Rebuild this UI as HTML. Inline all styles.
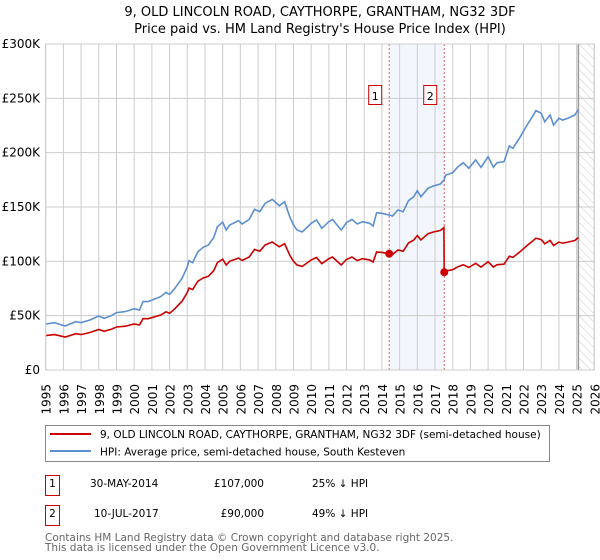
<!DOCTYPE html>
<html><head><meta charset="utf-8"><style>
body{margin:0;background:#fff;font-family:"DejaVu Sans","Liberation Sans",sans-serif;}
svg{display:block}
</style></head><body>
<svg id="c" width="600" height="560" xmlns="http://www.w3.org/2000/svg" font-family="DejaVu Sans, Liberation Sans, sans-serif">
<defs><pattern id="hatch" width="6" height="6" patternUnits="userSpaceOnUse" patternTransform="rotate(-45)"><line x1="0" y1="0" x2="0" y2="6" stroke="#ccc" stroke-width="1"/></pattern></defs>
<text x="320" y="16" text-anchor="middle" font-size="13">9, OLD LINCOLN ROAD, CAYTHORPE, GRANTHAM, NG32 3DF</text>
<text x="320" y="33" text-anchor="middle" font-size="13">Price paid vs. HM Land Registry's House Price Index (HPI)</text>
<g id="plot"></g>
<g>
<rect x="45.5" y="425.5" width="504" height="36" fill="#fff" stroke="#888"/>
<line x1="50" y1="434" x2="91" y2="434" stroke="#cc0000" stroke-width="2"/>
<text x="100" y="438" font-size="10.5">9, OLD LINCOLN ROAD, CAYTHORPE, GRANTHAM, NG32 3DF (semi-detached house)</text>
<line x1="50" y1="451" x2="91" y2="451" stroke="#5b8fd0" stroke-width="2"/>
<text x="100" y="455.5" font-size="10.5">HPI: Average price, semi-detached house, South Kesteven</text>
</g>
<g font-size="10.5">
<rect x="45.5" y="475.5" width="14" height="20" fill="#fff" stroke="#cc0000"/>
<text x="52.5" y="487" text-anchor="middle">1</text>
<text x="90" y="487">30-MAY-2014</text>
<text x="264" y="487" text-anchor="end">£107,000</text>
<text x="312" y="487">25% ↓ HPI</text>
<rect x="45.5" y="505.5" width="14" height="20" fill="#fff" stroke="#cc0000"/>
<text x="52.5" y="517" text-anchor="middle">2</text>
<text x="94" y="517">10-JUL-2017</text>
<text x="264" y="517" text-anchor="end">£90,000</text>
<text x="312" y="517">49% ↓ HPI</text>
</g>
<text x="45" y="541" font-size="10.5" fill="#666">Contains HM Land Registry data © Crown copyright and database right 2025.</text>
<text x="45" y="551" font-size="10.5" fill="#666">This data is licensed under the Open Government Licence v3.0.</text>
</svg>
<script>
const hpiDates=[1995.0,1995.5,1996.1,1996.7,1997.0,1997.5,1998.0,1998.3,1998.7,1999.0,1999.5,2000.0,2000.3,2000.5,2000.8,2001.5,2001.8,2002.0,2002.3,2002.7,2003.0,2003.1,2003.3,2003.6,2003.9,2004.2,2004.5,2004.7,2005.0,2005.2,2005.4,2005.9,2006.1,2006.5,2006.8,2007.1,2007.4,2007.8,2008.2,2008.5,2008.8,2009.0,2009.2,2009.5,2010.0,2010.3,2010.6,2011.0,2011.2,2011.7,2012.0,2012.3,2012.6,2012.9,2013.3,2013.5,2013.7,2014.0,2014.4,2014.6,2014.9,2015.2,2015.5,2015.8,2016.0,2016.2,2016.6,2016.9,2017.3,2017.52,2017.6,2018.0,2018.3,2018.6,2018.9,2019.3,2019.6,2020.0,2020.3,2020.5,2020.9,2021.2,2021.4,2021.8,2022.2,2022.5,2022.7,2023.0,2023.2,2023.5,2023.7,2024.0,2024.2,2024.5,2024.9,2025.1];
const hpiValues=[42.3,43.5,40.5,44.5,43.5,46,49.7,47.5,50,52.8,53.7,56.4,55.2,62.9,62.9,67.5,71.5,69.6,75.2,84.4,95,100.6,98.8,108.9,112.9,115,122,131.9,136,128.8,133.4,137.4,134.4,138.6,147.9,145.7,153.4,157,151.2,154.9,140.5,133.4,128.8,127,135,138,130.4,136.5,138.6,128.8,135.6,138.6,134.4,136.5,135,132.5,144.8,144.2,142.6,141.7,147.2,145.7,155.8,159.5,165,159.5,167.2,169.3,171.2,175,179.4,181.6,187.1,190.8,185.6,193.3,186.5,196.3,186.5,190.8,191.7,206.1,204,214.1,225.5,233.1,238.7,236.2,228.5,234.7,225.5,231.6,230,231.6,234.7,239.9];
const propDates=[1995.0,1995.5,1996.1,1996.7,1997.0,1997.5,1998.0,1998.3,1998.7,1999.0,1999.5,2000.0,2000.3,2000.5,2000.8,2001.5,2001.8,2002.0,2002.3,2002.7,2003.0,2003.1,2003.3,2003.6,2003.9,2004.2,2004.5,2004.7,2005.0,2005.2,2005.4,2005.9,2006.1,2006.5,2006.8,2007.1,2007.4,2007.8,2008.2,2008.5,2008.8,2009.0,2009.2,2009.5,2010.0,2010.3,2010.6,2011.0,2011.2,2011.7,2012.0,2012.3,2012.6,2012.9,2013.3,2013.5,2013.7,2014.0,2014.41,2014.6,2014.9,2015.2,2015.5,2015.8,2016.0,2016.2,2016.6,2016.9,2017.3,2017.5,2017.52,2017.6,2018.0,2018.3,2018.6,2018.9,2019.3,2019.6,2020.0,2020.3,2020.5,2020.9,2021.2,2021.4,2021.8,2022.2,2022.5,2022.7,2023.0,2023.2,2023.5,2023.7,2024.0,2024.2,2024.5,2024.9,2025.1];
const propValues=[31.7,32.6,30.4,33.4,32.6,34.5,37.3,35.6,37.5,39.6,40.3,42.3,41.4,47.2,47.2,50.6,53.6,52.2,56.4,63.3,71.3,75.5,74.1,81.7,84.7,86.3,91.5,98.9,102,96.6,100,103,100.8,104,110.9,109.3,115,117.8,113.4,116.2,105.4,100,96.6,95.3,101.3,103.5,97.8,102.4,104,96.6,101.7,104,100.8,102.4,101.3,99.4,108.6,108.2,107,106.3,110.4,109.3,116.9,119.6,123.8,119.6,125.4,127,128.4,131,90,91.1,92.3,95.1,96.9,94.3,98.2,94.7,99.7,94.7,96.9,97.4,104.7,103.6,108.8,114.6,118.4,121.3,120,116.1,119.2,114.6,117.7,116.8,117.7,119.2,121.9];
const saleDates=[2014.41,2017.52];
const salePrices=[107,90];
const saleLabels=["1","2"];
const yTicks=[0,50,100,150,200,250,300];
const yTickLabels=["£0","£50K","£100K","£150K","£200K","£250K","£300K"];
const xTicks=[1995,1996,1997,1998,1999,2000,2001,2002,2003,2004,2005,2006,2007,2008,2009,2010,2011,2012,2013,2014,2015,2016,2017,2018,2019,2020,2021,2022,2023,2024,2025,2026];
const dataEnd=2025.1;

const NS="http://www.w3.org/2000/svg";
const X0=45.7,X1=594.3,Y0=370,Y1=44;
const xs=d=>X0+(d-1995)/(2026-1995)*(X1-X0);
const ys=v=>Y0-v/300*(Y0-Y1);
const g=document.getElementById('plot');
function mk(t,a,p){const e=document.createElementNS(NS,t);for(const k in a)e.setAttribute(k,a[k]);(p||g).appendChild(e);return e;}
let e=mk('rect',{x:xs(saleDates[0]),y:Y1,width:xs(saleDates[1])-xs(saleDates[0]),height:Y0-Y1,fill:'#eef3fc',opacity:0.7});


e=mk('rect',{x:xs(dataEnd),y:Y1,width:X1-xs(dataEnd),height:Y0-Y1,fill:'url(#hatch)'});


xTicks.forEach(t=>{const l=mk('line',{x1:xs(t),x2:xs(t),y1:Y1,y2:Y0,stroke:'#ccc','stroke-width':1});


const tx=mk('text',{x:xs(t)+5,y:384,'text-anchor':'end','font-size':12,transform:`rotate(-90 ${xs(t)+5} 384)`});tx.textContent=t;

});
yTicks.forEach((t,i)=>{const l=mk('line',{x1:X0,x2:X1,y1:ys(t),y2:ys(t),stroke:'#ccc','stroke-width':1});


const tx=mk('text',{x:40,y:ys(t)+4,'text-anchor':'end','font-size':12});tx.textContent=yTickLabels[i];

});
e=mk('line',{x1:xs(dataEnd),x2:xs(dataEnd),y1:Y1,y2:Y0,stroke:'#999','stroke-width':1.5});


saleDates.forEach((d,i)=>{const l=mk('line',{x1:xs(d),x2:xs(d),y1:Y1,y2:Y0,stroke:'#e06060','stroke-width':1,'stroke-dasharray':'2,2'});

});
const path=(ds,vs)=>ds.map((d,i)=>(i?'L':'M')+xs(d).toFixed(1)+','+ys(vs[i]).toFixed(1)).join('');
e=mk('path',{d:path(hpiDates,hpiValues),fill:'none',stroke:'#5b8fd0','stroke-width':1.6});


e=mk('path',{d:path(propDates,propValues),fill:'none',stroke:'#cc0000','stroke-width':1.6});


saleDates.forEach((d,i)=>{const c=mk('circle',{cx:xs(d),cy:ys(salePrices[i]),r:4,fill:'#cc0000'});


const r=mk('rect',{x:xs(d)-20.5,y:85.5,width:13,height:19,fill:'#fff',stroke:'#cc0000'});


const t=mk('text',{x:xs(d)-14,y:100,'text-anchor':'middle','font-size':11});t.textContent=saleLabels[i];

});
e=mk('rect',{x:X0,y:Y1,width:X1-X0,height:Y0-Y1,fill:'none',stroke:'#ccc'});


</script>
</body></html>
